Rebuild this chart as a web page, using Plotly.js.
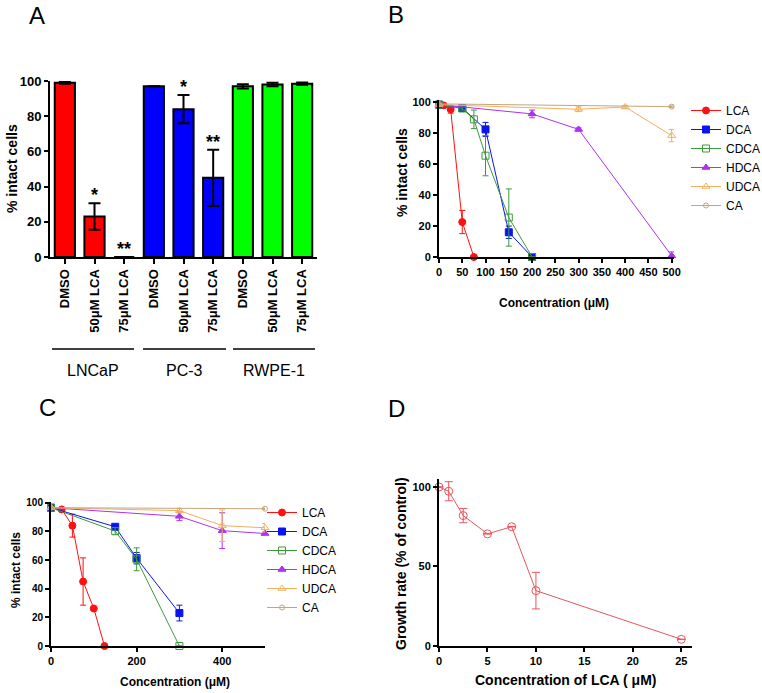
<!DOCTYPE html>
<html>
<head>
<meta charset="utf-8">
<script src="https://cdn.plot.ly/plotly-3.0.1.min.js"></script>
<style>
    html, body { margin: 0; padding: 0; background: #fff; }
    #chart { width: 762px; height: 693px; }
</style>
</head>
<body>
<div id="chart"></div>
<script>
// Panel A - % intact cells per cell line and treatment
const cellLines = ['LNCaP', 'PC-3', 'RWPE-1'];
const treatments = ['DMSO', '50μM LCA', '75μM LCA'];
const intactA = [99, 23, 0, 97, 84, 45, 97, 98, 98.5];
const errA = [0.5, 7.5, 0, 0, 8, 16, 1.2, 1, 0.6];
const starsA = ['', '*', '**', '', '*', '**', '', '', ''];
const barColors = ['#ff0000', '#0000ff', '#00ff00'];

// Panels B and C - bile acids
const acidNames = ['LCA', 'DCA', 'CDCA', 'HDCA', 'UDCA', 'CA'];
const acidColors = ['#ff1010', '#0a14f0', '#3c9a3c', '#b030f0', '#f2b060', '#c8a47a'];
const acidSymbols = ['circle', 'square', 'square-open', 'triangle-up', 'triangle-up-open', 'circle-open'];

const bConc = [
    [0, 10, 25, 50, 75],
    [0, 50, 100, 150, 200],
    [0, 50, 75, 100, 150, 200],
    [0, 200, 300, 500],
    [0, 300, 400, 500],
    [0, 500]
];
const bIntact = [
    [98.5, 98, 95.5, 22.6, 0],
    [98.5, 96.3, 82.5, 16, 0],
    [98.5, 96, 89, 65.5, 25.5, 0],
    [98.5, 92.5, 82.5, 0.8],
    [98.5, 95.5, 97, 78.5],
    [99, 97.2]
];
const bErr = [
    [0.5, 1, 2.5, 7.5, 0],
    [0.5, 1, 4.5, 4, 0],
    [0.5, 1, 6, 13, 18.5, 0],
    [0.5, 2.5, 1, 2.5],
    [0.5, 1.5, 1, 4],
    [0.5, 0.5]
];

const cConc = [
    [0, 25, 50, 75, 100, 125],
    [0, 150, 200, 300],
    [0, 150, 200, 300],
    [0, 300, 400, 500],
    [0, 300, 400, 500],
    [0, 500]
];
const cIntact = [
    [96.5, 95.3, 84, 45, 26.2, 0],
    [96.5, 83.2, 61.3, 23],
    [96.5, 80.2, 60.5, 0],
    [96.5, 90.5, 80.5, 78.5],
    [96.5, 94.5, 84, 82.5],
    [96.5, 95.8]
];
const cErr = [
    [0.5, 1, 8, 16.5, 1, 0],
    [0.5, 1, 4, 5.5],
    [0.5, 2.5, 8, 0],
    [0.5, 3, 12.5, 1],
    [0.5, 1.5, 11, 3],
    [0.5, 0.5]
];

// Panel D - growth rate vs LCA
const lcaConcD = [0, 1, 2.5, 5, 7.5, 10, 25];
const growthD = [100, 97.3, 82, 70.5, 75, 34.8, 4.2];
const growthErrD = [0, 6, 4.5, 0, 0, 11.5, 0];

const FONT = 'Arial, "Liberation Sans", sans-serif';
const W = 762, H = 693;
const px = v => v / W;
const py = v => 1 - v / H;

function buildTraces() {
    const traces = [];

    // Panel A bars
    traces.push({
        type: 'bar',
        x: intactA.map((v, i) => i),
        y: intactA,
        width: 0.68,
        marker: {
            color: intactA.map((v, i) => barColors[Math.floor(i / treatments.length)]),
            line: { color: '#000', width: 2 }
        },
        error_y: { type: 'data', array: errA, visible: true, color: '#000', thickness: 2, width: 6 },
        xaxis: 'x', yaxis: 'y',
        showlegend: false,
        hoverinfo: 'y'
    });

    // Panels B and C
    const panels = [
        { conc: bConc, val: bIntact, err: bErr, xa: 'x2', ya: 'y2', legend: 'legend' },
        { conc: cConc, val: cIntact, err: cErr, xa: 'x3', ya: 'y3', legend: 'legend2' }
    ];
    panels.forEach(p => {
        acidNames.forEach((name, k) => {
            traces.push({
                type: 'scatter',
                mode: 'lines+markers',
                name: name,
                x: p.conc[k],
                y: p.val[k],
                xaxis: p.xa, yaxis: p.ya,
                legend: p.legend,
                cliponaxis: false,
                line: { color: acidColors[k], width: 1 },
                marker: {
                    symbol: acidSymbols[k],
                    size: k === 5 ? 5 : 7,
                    color: acidColors[k],
                    line: { color: acidColors[k], width: 1 }
                },
                error_y: { type: 'data', array: p.err[k], visible: true, color: acidColors[k], thickness: 1, width: 3 }
            });
        });
    });

    // Panel D
    traces.push({
        type: 'scatter',
        mode: 'lines+markers',
        x: lcaConcD,
        y: growthD,
        xaxis: 'x4', yaxis: 'y4',
        showlegend: false,
        cliponaxis: false,
        line: { color: '#e8555d', width: 1 },
        marker: { symbol: 'circle-open', size: 8, color: '#e8555d', line: { color: '#e8555d', width: 1 } },
        error_y: { type: 'data', array: growthErrD, visible: true, color: '#e8555d', thickness: 1, width: 4 }
    });

    return traces;
}

function axisStyle(extra) {
    return Object.assign({
        showline: true,
        linecolor: '#000',
        linewidth: 2,
        ticks: 'outside',
        ticklen: 4,
        tickwidth: 2,
        tickcolor: '#000',
        showgrid: false,
        zeroline: false,
        fixedrange: true,
        tickfont: { family: FONT, size: 11, color: '#000', weight: 'bold' }
    }, extra);
}

function buildLayout() {
    const annotations = [];
    const shapes = [];

    // Panel letters
    [['A', 37, 15], ['B', 396, 14], ['C', 47, 407], ['D', 396, 408]].forEach(l => {
        annotations.push({
            xref: 'paper', yref: 'paper', x: px(l[1]), y: py(l[2]),
            text: l[0], showarrow: false, xanchor: 'center', yanchor: 'middle',
            font: { family: FONT, size: 24, color: '#000' }
        });
    });

    // Stars over bars
    starsA.forEach((s, i) => {
        if (!s) return;
        annotations.push({
            xref: 'x', yref: 'y', x: i, y: intactA[i] + errA[i],
            text: s, showarrow: false, yanchor: 'bottom', yshift: -4,
            font: { family: FONT, size: 18, color: '#000', weight: 'bold' }
        });
    });

    // Cell line group lines and labels
    const groupSpan = [[52, 134], [143, 226], [233, 315]];
    cellLines.forEach((name, g) => {
        shapes.push({
            type: 'line', xref: 'paper', yref: 'paper',
            x0: px(groupSpan[g][0]), x1: px(groupSpan[g][1]), y0: py(349), y1: py(349),
            line: { color: '#000', width: 1.5 }
        });
        annotations.push({
            xref: 'paper', yref: 'paper', x: px((groupSpan[g][0] + groupSpan[g][1]) / 2), y: py(370),
            text: name, showarrow: false, xanchor: 'center', yanchor: 'middle',
            font: { family: FONT, size: 16, color: '#000' }
        });
    });

    // Axis titles
    const titles = [
        ['% intact cells', 12, 169, -90, 14],
        ['% intact cells', 402, 172, -90, 14],
        ['Concentration (μM)', 554, 303, 0, 12],
        ['% intact cells', 16, 570, -90, 12],
        ['Concentration (μM)', 175, 682, 0, 12],
        ['Growth rate (% of control)', 401, 564, -90, 14],
        ['Concentration of LCA ( μM)', 565, 680, 0, 14]
    ];
    titles.forEach(t => {
        annotations.push({
            xref: 'paper', yref: 'paper', x: px(t[1]), y: py(t[2]),
            text: t[0], showarrow: false, xanchor: 'center', yanchor: 'middle',
            textangle: t[3],
            font: { family: FONT, size: t[4], color: '#000', weight: 'bold' }
        });
    });

    const legendStyle = {
        font: { family: FONT, size: 12, color: '#000' },
        bgcolor: 'rgba(0,0,0,0)',
        xanchor: 'left', yanchor: 'top',
        itemclick: false, itemdoubleclick: false
    };

    return {
        width: W,
        height: H,
        margin: { l: 0, r: 0, t: 0, b: 0, autoexpand: false },
        paper_bgcolor: '#fff',
        plot_bgcolor: '#fff',
        font: { family: FONT, color: '#000' },
        bargap: 0.3,
        xaxis: axisStyle({
            domain: [px(50), px(317)], anchor: 'y', range: [-0.5, 8.5],
            tickvals: intactA.map((v, i) => i),
            ticktext: intactA.map((v, i) => treatments[i % treatments.length]),
            tickangle: -90, ticklen: 5,
            tickfont: { family: FONT, size: 13, color: '#000', weight: 'bold' }
        }),
        yaxis: axisStyle({
            domain: [py(257), py(81)], anchor: 'x', range: [0, 100],
            tickvals: [0, 20, 40, 60, 80, 100],
            tickfont: { family: FONT, size: 13, color: '#000', weight: 'bold' }
        }),
        xaxis2: axisStyle({
            domain: [px(439), px(674)], anchor: 'y2', range: [0, 505],
            tickvals: [0, 50, 100, 150, 200, 250, 300, 350, 400, 450, 500]
        }),
        yaxis2: axisStyle({
            domain: [py(257), py(100)], anchor: 'x2', range: [0, 101.5],
            tickvals: [0, 20, 40, 60, 80, 100]
        }),
        xaxis3: axisStyle({
            domain: [px(51), px(265)], anchor: 'y3', range: [0, 500],
            tickvals: [0, 200, 400]
        }),
        yaxis3: axisStyle({
            domain: [py(646), py(502)], anchor: 'x3', range: [0, 100.5],
            tickvals: [0, 20, 40, 60, 80, 100],
            tickfont: { family: FONT, size: 10, color: '#000', weight: 'bold' }
        }),
        xaxis4: axisStyle({
            domain: [px(439), px(692)], anchor: 'y4', range: [0, 26.1],
            tickvals: [0, 5, 10, 15, 20, 25]
        }),
        yaxis4: axisStyle({
            domain: [py(646), py(479)], anchor: 'x4', range: [0, 105],
            tickvals: [0, 50, 100]
        }),
        legend: Object.assign({ x: px(686), y: py(96) }, legendStyle),
        legend2: Object.assign({ x: px(262), y: py(498) }, legendStyle),
        annotations: annotations,
        shapes: shapes
    };
}

document.addEventListener('DOMContentLoaded', function() {
    Plotly.newPlot('chart', buildTraces(), buildLayout(), { staticPlot: true, displayModeBar: false });
});
</script>
</body>
</html>
